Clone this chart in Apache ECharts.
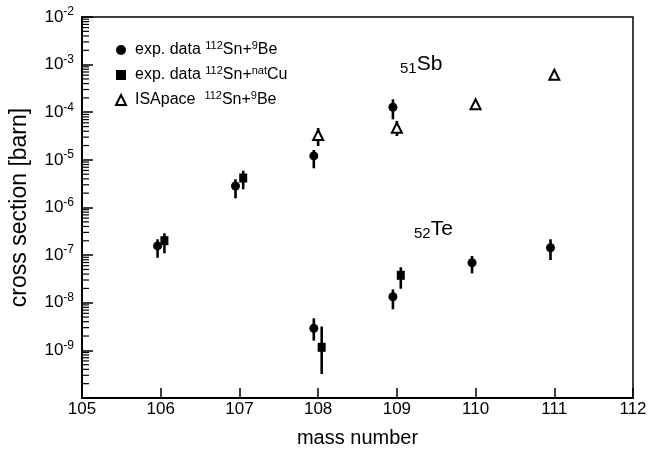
<!DOCTYPE html>
<html><head><meta charset="utf-8">
<script src="https://cdn.jsdelivr.net/npm/echarts@6/dist/echarts.min.js"></script>
<style>html,body{margin:0;padding:0;background:#fff}#c{width:650px;height:453px}</style>
</head><body><div id="c"></div>
<script>
// exp. data 112Sn + 9Be  (circles)
const beMass  = [105.96, 106.95, 107.945, 107.945, 108.95, 108.95, 109.955, 110.952];
const beValue = [1.56e-7, 2.83e-6, 1.21e-5, 2.9e-9, 1.27e-4, 1.34e-8, 6.93e-8, 1.43e-7];
const beLow   = [8.8e-8, 1.56e-6, 6.65e-6, 1.6e-9, 7.1e-5, 7.3e-9, 4.15e-8, 7.9e-8];
const beHigh  = [2.15e-7, 3.91e-6, 1.61e-5, 4.72e-9, 1.87e-4, 1.91e-8, 9.6e-8, 2.15e-7];
// exp. data 112Sn + natCu (squares)
const cuMass  = [106.047, 107.048, 108.045, 109.05];
const cuValue = [2.01e-7, 4.16e-6, 1.16e-9, 3.77e-8];
const cuLow   = [1.09e-7, 2.41e-6, 3.19e-10, 1.97e-8];
const cuHigh  = [2.87e-7, 5.93e-6, 3.17e-9, 5.55e-8];
// ISApace 112Sn + 9Be (open triangles)
const isaMass  = [108.0, 109.0, 110.0, 111.0];
const isaValue = [3.33e-5, 4.74e-5, 1.47e-4, 6.14e-4];
const isaLow   = [1.95e-5, 3.17e-5, 1.47e-4, 6.14e-4];
const isaHigh  = [4.67e-5, 6.55e-5, 1.47e-4, 6.14e-4];
// axes
const xMin = 105, xMax = 112;
const yMinExp = -10, yMaxExp = -2;
const yLabelExps = [-2, -3, -4, -5, -6, -7, -8, -9];
const minorMultipliers = [2, 3, 4, 5, 6, 7, 8, 9];

const FONT = '"Liberation Sans", Arial, Helvetica, sans-serif';

const zip = (a, b) => a.map((v, i) => [v, b[i]]);
const errData = (m, lo, hi) => m.map((v, i) => [v, lo[i], hi[i]]);

const minorTicks = [];
for (let e = yMinExp; e < yMaxExp; e++) {
  minorMultipliers.forEach(k => minorTicks.push([xMin, k * Math.pow(10, e)]));
}

function renderErr(params, api) {
  const x = api.value(0);
  const p1 = api.coord([x, api.value(1)]);
  const p2 = api.coord([x, api.value(2)]);
  return { type: 'line', shape: { x1: p1[0], y1: p1[1], x2: p2[0], y2: p2[1] },
           style: { stroke: '#000', lineWidth: 2.6 } };
}
function renderMinor(params, api) {
  const p = api.coord([api.value(0), api.value(1)]);
  return { type: 'line', shape: { x1: p[0], y1: p[1], x2: p[0] + 7, y2: p[1] },
           style: { stroke: '#000', lineWidth: 1.2 } };
}

const legendText = {
  'be': '{n|exp. data }{sup|112}{n|Sn+}{sup|9}{n|Be}',
  'cu': '{n|exp. data }{sup|112}{n|Sn+}{sup|nat}{n|Cu}',
  'isa': '{n|ISApace  }{sup|112}{n|Sn+}{sup|9}{n|Be}'
};

const chart = echarts.init(document.getElementById('c'), null, { renderer: 'canvas' });
chart.setOption({
  animation: false,
  backgroundColor: '#fff',
  textStyle: { fontFamily: FONT },
  grid: { left: 79, right: 17, top: 17, bottom: 55, show: true, borderColor: '#000', borderWidth: 1.5, backgroundColor: 'transparent' },
  legend: {
    orient: 'vertical', left: 110, top: 35, itemWidth: 10, itemHeight: 10, itemGap: 7,
    data: ['be', 'cu', 'isa'],
    formatter: name => legendText[name],
    textStyle: {
      padding: [0, 0, 0, 4],
      rich: {
        n: { fontSize: 16, lineHeight: 20, color: '#000', fontFamily: FONT },
        sup: { fontSize: 11, lineHeight: 11, verticalAlign: 'top', color: '#000', fontFamily: FONT }
      }
    }
  },
  xAxis: {
    type: 'value', min: xMin, max: xMax, interval: 1,
    name: 'mass number', nameLocation: 'middle', nameGap: 30,
    nameTextStyle: { fontSize: 20, color: '#000', fontFamily: FONT },
    axisLine: { show: true, lineStyle: { color: '#000', width: 2 } },
    axisTick: { show: true, inside: true, length: 10, lineStyle: { color: '#000', width: 1.5 } },
    axisLabel: { color: '#000', fontSize: 17, margin: 3, fontFamily: FONT },
    splitLine: { show: false }
  },
  yAxis: {
    type: 'log', logBase: 10, min: Math.pow(10, yMinExp), max: Math.pow(10, yMaxExp),
    name: 'cross section [barn]', nameLocation: 'middle', nameGap: 51,
    nameTextStyle: { fontSize: 23, color: '#000', fontFamily: FONT },
    axisLine: { show: true, lineStyle: { color: '#000', width: 2 } },
    axisTick: { show: true, inside: true, length: 11, lineStyle: { color: '#000', width: 1.5 } },
    axisLabel: {
      margin: 8, fontFamily: FONT,
      formatter: v => {
        const e = Math.round(Math.log10(v));
        return yLabelExps.includes(e) ? '{b|10}{e|' + e + '}' : '';
      },
      rich: {
        b: { fontSize: 17, lineHeight: 22, color: '#000', fontFamily: FONT },
        e: { fontSize: 12, lineHeight: 12, verticalAlign: 'top', color: '#000', fontFamily: FONT }
      }
    },
    splitLine: { show: false }
  },
  graphic: [
    { type: 'text', x: 400, y: 64, style: { text: '{s|51}{m|Sb}', verticalAlign: 'middle',
      rich: { m: { fontSize: 21, lineHeight: 24, fill: '#000', color: '#000', fontFamily: FONT },
              s: { fontSize: 15, lineHeight: 15, verticalAlign: 'bottom', fill: '#000', color: '#000', fontFamily: FONT } } } },
    { type: 'text', x: 414, y: 229, style: { text: '{s|52}{m|Te}', verticalAlign: 'middle',
      rich: { m: { fontSize: 21, lineHeight: 24, fill: '#000', color: '#000', fontFamily: FONT },
              s: { fontSize: 15, lineHeight: 15, verticalAlign: 'bottom', fill: '#000', color: '#000', fontFamily: FONT } } } }
  ],
  series: [
    { type: 'custom', name: 'minor', renderItem: renderMinor, data: minorTicks,
      encode: { x: 0, y: 1 }, silent: true, z: 3, clip: false },
    { type: 'custom', name: 'beErr', renderItem: renderErr, data: errData(beMass, beLow, beHigh),
      encode: { x: 0, y: [1, 2] }, z: 2, silent: true },
    { type: 'custom', name: 'cuErr', renderItem: renderErr, data: errData(cuMass, cuLow, cuHigh),
      encode: { x: 0, y: [1, 2] }, z: 2, silent: true },
    { type: 'custom', name: 'isaErr', renderItem: renderErr, data: errData(isaMass, isaLow, isaHigh),
      encode: { x: 0, y: [1, 2] }, z: 2, silent: true },
    { type: 'scatter', name: 'be', data: zip(beMass, beValue), symbol: 'circle', symbolSize: 9,
      itemStyle: { color: '#000', opacity: 1 }, z: 5 },
    { type: 'scatter', name: 'cu', data: zip(cuMass, cuValue), symbol: 'rect', symbolSize: [8, 9],
      itemStyle: { color: '#000', opacity: 1 }, z: 5 },
    { type: 'scatter', name: 'isa', data: zip(isaMass, isaValue), symbol: 'triangle', symbolSize: 10,
      itemStyle: { color: '#fff', borderColor: '#000', borderWidth: 2, opacity: 1 }, z: 5 }
  ]
});
</script></body></html>
